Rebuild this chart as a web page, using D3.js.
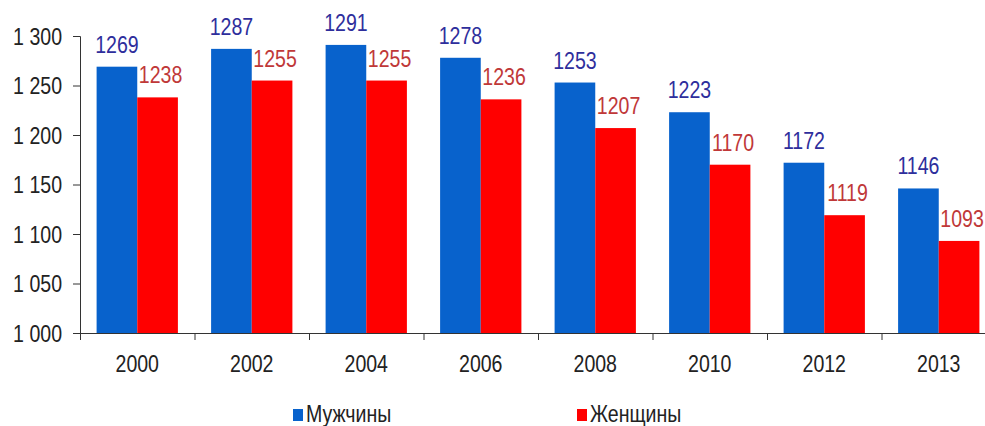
<!DOCTYPE html>
<html>
<head>
<meta charset="utf-8">
<script src="https://cdnjs.cloudflare.com/ajax/libs/d3/7.8.5/d3.min.js"></script>
<style>
  body { margin: 0; background: #fff; }
  svg { display: block; font-family: "Liberation Sans", Arial, sans-serif; }
</style>
</head>
<body>
<svg class="chart"></svg>
<script>
var svgWidth = 985,
    svgHeight = 426;

var years = ['2000', '2002', '2004', '2006', '2008', '2010', '2012', '2013'];
var men = [1269, 1287, 1291, 1278, 1253, 1223, 1172, 1146];
var women = [1238, 1255, 1255, 1236, 1207, 1170, 1119, 1093];
var seriesNames = ['Мужчины', 'Женщины'];
var yTicks = [1000, 1050, 1100, 1150, 1200, 1250, 1300];

var barColors = ['#0862cc', '#ff0000'],
    labelColors = ['#2e2e9c', '#c03838'];

var fontSize = 23,
    squeeze = 0.85; // text in the original is tall and narrow

var svg = d3.select('.chart')
    .attr('width', svgWidth)
    .attr('height', svgHeight);

var xScale = d3.scaleBand()
    .domain(years)
    .range([80, 996])
    .paddingInner(0.29)
    .paddingOuter(0.145);

var innerScale = d3.scaleBand()
    .domain([0, 1])
    .range([0, xScale.bandwidth()]);

var yScale = d3.scaleLinear()
    .domain([1000, 1300])
    .range([333, 36]);

var fmt = function(d) { return d3.format(',')(d).replace(',', ' '); };

var yAxis = d3.axisLeft(yScale)
    .tickValues(yTicks)
    .tickFormat(fmt)
    .tickSize(7);

var yg = svg.append('g')
    .attr('transform', 'translate(80,0)')
    .call(yAxis);
yg.selectAll('text')
    .attr('font-size', fontSize).attr('fill', '#222').attr('font-family', null)
    .attr('x', -18 / squeeze)
    .attr('dy', '0.35em')
    .attr('transform', 'scale(' + squeeze + ',1)');
yg.selectAll('line, path').attr('stroke', '#333');

var xAxis = d3.axisBottom(xScale).tickSize(0);
var xg = svg.append('g')
    .attr('transform', 'translate(0,333)')
    .call(xAxis);
xg.select('.domain').remove();
xg.selectAll('text')
    .attr('font-size', fontSize).attr('fill', '#222').attr('font-family', null)
    .attr('y', 39).attr('dy', 0)
    .attr('transform', 'scale(' + squeeze + ',1)');

// x axis line with ticks between the groups
var step = xScale.step(),
    start = xScale.range()[0];
svg.append('line')
    .attr('x1', start).attr('x2', xScale.range()[1])
    .attr('y1', 333.5).attr('y2', 333.5)
    .attr('stroke', '#333');
svg.selectAll('.xtick')
    .data(d3.range(years.length + 1))
    .enter().append('line')
    .attr('class', 'xtick')
    .attr('x1', function(i) { return start + i * step + 0.5; })
    .attr('x2', function(i) { return start + i * step + 0.5; })
    .attr('y1', 333).attr('y2', 340)
    .attr('stroke', '#333');

var data = [];
years.forEach(function(y, i) {
    data.push({year: y, s: 0, value: men[i]});
    data.push({year: y, s: 1, value: women[i]});
});

svg.selectAll('.bar')
    .data(data)
    .enter().append('rect')
    .attr('class', 'bar')
    .attr('x', function(d) { return xScale(d.year) + innerScale(d.s); })
    .attr('y', function(d) { return yScale(d.value); })
    .attr('width', innerScale.bandwidth())
    .attr('height', function(d) { return yScale(1000) - yScale(d.value); })
    .attr('fill', function(d) { return barColors[d.s]; });

svg.selectAll('.val')
    .data(data)
    .enter().append('text')
    .attr('class', 'val')
    .attr('transform', function(d) {
        var x = xScale(d.year) + innerScale(d.s) + innerScale.bandwidth() / 2 + (d.s ? 3 : 0),
            y = yScale(d.value) - 14;
        return 'translate(' + x + ',' + y + ') scale(' + squeeze + ',1)';
    })
    .attr('text-anchor', 'middle')
    .attr('font-size', fontSize)
    .attr('fill', function(d) { return labelColors[d.s]; })
    .text(function(d) { return d.value; });

// legend
var legendX = [293, 577];
var lg = svg.selectAll('.legend')
    .data(seriesNames)
    .enter().append('g')
    .attr('class', 'legend')
    .attr('transform', function(d, i) { return 'translate(' + legendX[i] + ',409)'; });
lg.append('rect')
    .attr('width', 10).attr('height', 12)
    .attr('fill', function(d, i) { return barColors[i]; });
lg.append('text')
    .attr('transform', 'translate(13,13) scale(' + squeeze + ',1)')
    .attr('font-size', fontSize)
    .attr('fill', '#222')
    .text(function(d) { return d; });
</script>
</body>
</html>
